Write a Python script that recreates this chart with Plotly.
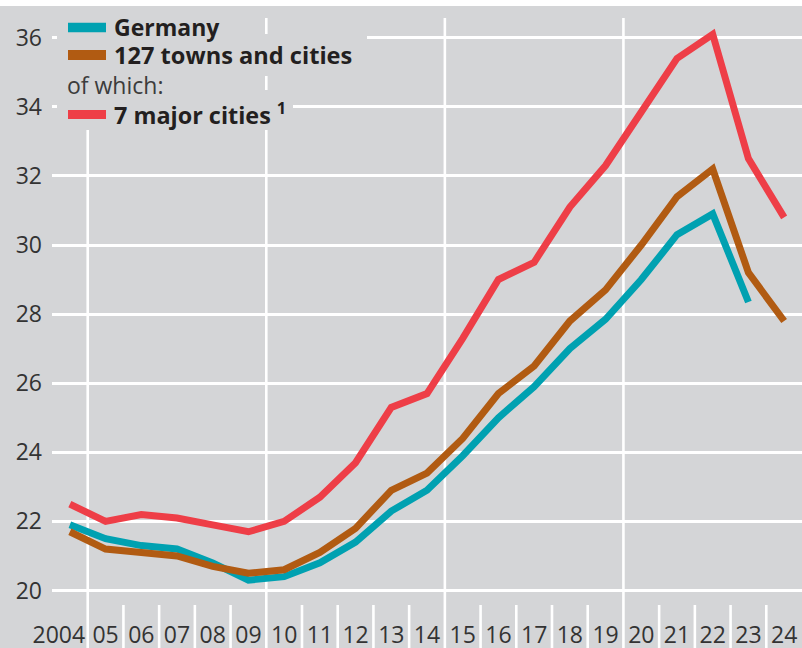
import plotly.graph_objects as go

# ---- data ----
years = list(range(2004, 2025))
tick_labels = ["2004", "05", "06", "07", "08", "09", "10", "11", "12", "13", "14",
               "15", "16", "17", "18", "19", "20", "21", "22", "23", "24"]
germany = [21.9, 21.5, 21.3, 21.2, 20.8, 20.3, 20.4, 20.8, 21.4, 22.3, 22.9,
           23.9, 25.0, 25.9, 27.0, 27.85, 29.0, 30.3, 30.9, 28.35]
towns127 = [21.7, 21.2, 21.1, 21.0, 20.7, 20.5, 20.6, 21.1, 21.8, 22.9, 23.4,
            24.4, 25.7, 26.5, 27.8, 28.7, 30.0, 31.4, 32.2, 29.2, 27.8]
major7 = [22.5, 22.0, 22.2, 22.1, 21.9, 21.7, 22.0, 22.7, 23.7, 25.3, 25.7,
          27.3, 29.0, 29.5, 31.1, 32.3, 33.85, 35.4, 36.1, 32.5, 30.8]
y_ticks = [20, 22, 24, 26, 28, 30, 32, 34, 36]

series_names = ["Germany", "127 towns and cities", "7 major cities"]
colors = ["#00A1B1", "#B15B12", "#EE3E47"]
BG = "#D4D5D7"
FONT = "Open Sans"

W, H = 802, 648
ML, MR, MT, MB = 52, 0, 18, 56
PW, PH = W - ML - MR, H - MT - MB


def px(x):
    return (x - ML) / PW


def py(y):
    return (H - MB - y) / PH


fig = go.Figure()
for name, vals, c in zip(series_names, [germany, towns127, major7], colors):
    fig.add_trace(go.Scatter(x=years[:len(vals)], y=vals, mode="lines", name=name,
                             line=dict(color=c, width=7), showlegend=False,
                             hoverinfo="skip"))

shapes = []
# top white strip
shapes.append(dict(type="rect", xref="paper", yref="paper", x0=-0.1, x1=1.1,
                   y0=py(6), y1=py(-2), fillcolor="white", line=dict(width=0), layer="above"))
# vertical separators between years
for yr in years[:-1]:
    b = yr + 0.5
    major = (yr - 2004) % 5 == 0
    shapes.append(dict(type="line", xref="x", yref="paper", x0=b, x1=b,
                       y0=py(H + 2), y1=1 if major else py(605),
                       line=dict(color="white", width=2.6), layer="below"))

# legend boxes (cover grid lines behind legend text)
boxes = [(57, 230, 12, 34), (57, 367, 34, 76), (57, 190, 76, 90), (57, 293, 90, 130)]
for x0, x1, y0, y1 in boxes:
    shapes.append(dict(type="rect", xref="paper", yref="paper", x0=px(x0), x1=px(x1),
                       y0=py(y1), y1=py(y0), fillcolor=BG, line=dict(width=0), layer="above"))
# legend swatches
swatches = [(22.7, 32.3, colors[0]), (50, 60, colors[1]), (110, 119, colors[2])]
for y0, y1, c in swatches:
    shapes.append(dict(type="rect", xref="paper", yref="paper", x0=px(68), x1=px(106),
                       y0=py(y1), y1=py(y0), fillcolor=c, line=dict(width=0), layer="above"))

annotations = []
leg_texts = [("<b>Germany</b>", 113, 27.0, "#231F20", 23),
             ("<b>127 towns and cities</b>", 113, 55.2, "#231F20", 23.6),
             ("of which:", 66, 84.5, "#3C3C3C", 23),
             ("<b>7 major cities</b> <b><sup>1</sup></b>", 113, 114.3, "#231F20", 23.4)]
for t, x, y, col, fs in leg_texts:
    annotations.append(dict(text=t, xref="paper", yref="paper", x=px(x), y=py(y),
                            xanchor="left", yanchor="middle", showarrow=False,
                            borderpad=0,
                            font=dict(family=FONT, size=fs, color=col)))

tick_pos = [yr - 0.31 if i == 0 else yr for i, yr in enumerate(years)]

fig.update_layout(
    width=W, height=H,
    margin=dict(l=ML, r=MR, t=MT, b=MB, pad=0, autoexpand=False),
    paper_bgcolor=BG, plot_bgcolor=BG,
    font=dict(family=FONT, size=23, color="#333333"),
    shapes=shapes, annotations=annotations, showlegend=False,
    xaxis=dict(range=[2003.5, 2024.5], tickmode="array", tickvals=tick_pos,
               ticktext=tick_labels, showgrid=False, zeroline=False, showline=False,
               automargin=False,
               ticks="", ticklabelstandoff=27, tickfont=dict(size=23, color="#333333")),
    yaxis=dict(range=[20 - 1.5 / 34.55, 36 + 19.7 / 34.55], tickmode="array",
               tickvals=y_ticks, showgrid=True, gridcolor="white", gridwidth=2.6,
               automargin=False,
               zeroline=False, showline=False, ticks="", ticklabelstandoff=9,
               tickfont=dict(size=23, color="#333333")),
)

fig.write_html("out.html", config={"displayModeBar": False},
               post_script="document.body.style.margin='0';document.body.style.overflow='hidden';")
